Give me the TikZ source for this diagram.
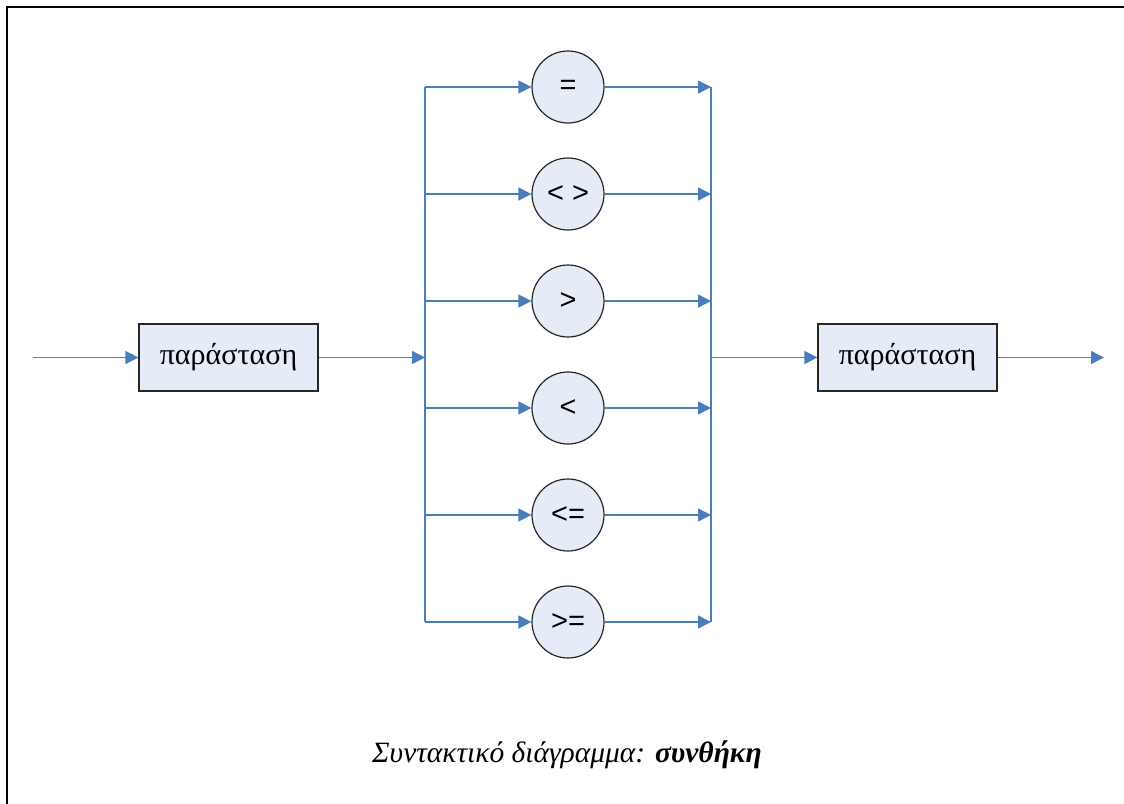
\documentclass[tikz,border=0pt]{standalone}
\usepackage{fontspec}
\setmainfont{Liberation Serif}
\newfontfamily\opfont{Liberation Sans}
\usetikzlibrary{arrows.meta}
\definecolor{flow}{HTML}{4A7EBB}
\definecolor{shapefill}{HTML}{E6ECF7}
\definecolor{edge}{HTML}{262626}

\tikzset{
  flowline/.style={draw=flow, line width=1.4pt, -{Triangle[length=13pt,width=13pt]}, color=flow},
  busline/.style={draw=flow, line width=1.4pt},
  termbox/.style={draw=edge, fill=shapefill, line width=1.2pt, minimum width=179pt, minimum height=67pt,
    inner sep=0pt, font=\fontsize{30}{34}\selectfont},
  opcirc/.style={circle, draw=edge, fill=shapefill, line width=1.2pt, minimum size=72pt, inner sep=0pt,
    font=\opfont\fontsize{29}{32}\selectfont},
  caption/.style={font=\fontsize{29.5}{34}\selectfont, inner sep=0pt}
}

\begin{document}
\begin{tikzpicture}[x=1pt,y=-1pt]
\useasboundingbox (0,0) rectangle (1124,803);
\clip (0,0) rectangle (1124,803);

% outer frame
\draw[line width=2.8pt] (7,830) -- (7,7) -- (1150,7);

% terms
\node[termbox] (e1) at (228.5,357.5) {παράσταση};
\node[termbox] (e2) at (907.5,357.5) {παράσταση};

% operators
\node[opcirc] (o1) at (568,87)  {=};
\node[opcirc] (o2) at (568,194) {< >};
\node[opcirc] (o3) at (568,301) {>};
\node[opcirc] (o4) at (568,408) {<};
\node[opcirc] (o5) at (568,515) {<=};
\node[opcirc] (o6) at (568,622) {>=};

% branch points on the two buses
\coordinate (l1) at (425,87);  \coordinate (r1) at (711,87);
\coordinate (l2) at (425,194); \coordinate (r2) at (711,194);
\coordinate (l3) at (425,301); \coordinate (r3) at (711,301);
\coordinate (l4) at (425,408); \coordinate (r4) at (711,408);
\coordinate (l5) at (425,515); \coordinate (r5) at (711,515);
\coordinate (l6) at (425,622); \coordinate (r6) at (711,622);
\coordinate (split) at (425,357.5);
\coordinate (join) at (711,357.5);
\coordinate (in) at (33,357.5);
\coordinate (out) at (1104,357.5);

% buses
\draw[busline] (l1) -- (l6);
\draw[busline] (r1) -- (r6);

% branches
\foreach \i in {1,...,6}{
  \draw[flowline] (l\i) -- (o\i);
  \draw[flowline] (o\i) -- (r\i);
}

% main path
\draw[flowline] (in) -- (e1);
\draw[flowline] (e1) -- (split);
\draw[flowline] (join) -- (e2);
\draw[flowline] (e2) -- (out);

% caption
\node[caption] (cap) at (567,755) {\textit{Συντακτικό διάγραμμα: }\textbf{\textit{συνθήκη}}};
\end{tikzpicture}
\end{document}
